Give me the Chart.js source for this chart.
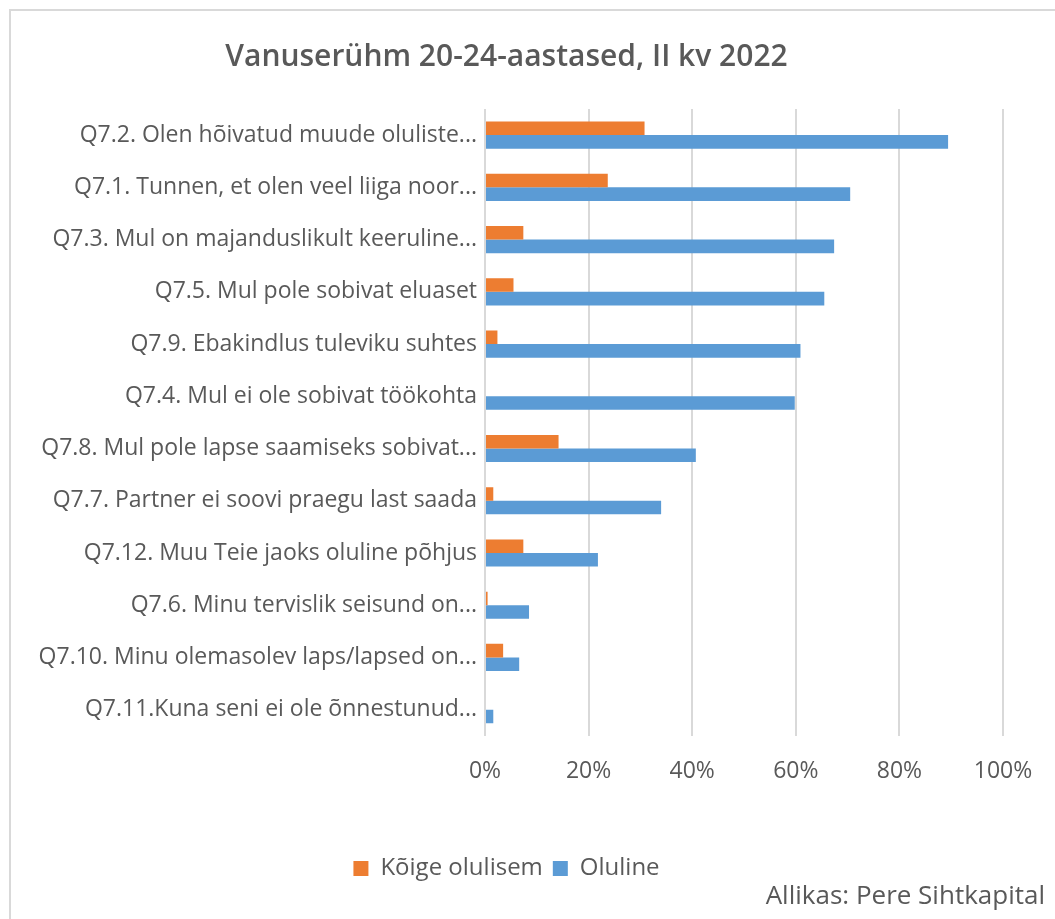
<!DOCTYPE html>
<html>
<head>
<meta charset="utf-8">
<script src="https://cdn.jsdelivr.net/npm/chart.js@4"></script>
<style>
  body { margin: 0; background: #fff; }
  #frame { position: absolute; left: 9px; top: 9px; width: 1100px; height: 1000px; border: 2px solid #d9d9d9; }
  #wrap { position: absolute; left: 0; top: 0; width: 1055px; height: 919px; }
</style>
</head>
<body>
<div id="frame"></div>
<div id="wrap"><canvas id="chart"></canvas></div>
<script>
const categories = [
    'Q7.2. Olen hõivatud muude oluliste...',
    'Q7.1. Tunnen, et olen veel liiga noor...',
    'Q7.3. Mul on majanduslikult keeruline...',
    'Q7.5. Mul pole sobivat eluaset',
    'Q7.9. Ebakindlus tuleviku suhtes',
    'Q7.4. Mul ei ole sobivat töökohta',
    'Q7.8. Mul pole lapse saamiseks sobivat...',
    'Q7.7. Partner ei soovi praegu last saada',
    'Q7.12. Muu Teie jaoks oluline põhjus',
    'Q7.6. Minu tervislik seisund on...',
    'Q7.10. Minu olemasolev laps/lapsed on...',
    'Q7.11.Kuna seni ei ole õnnestunud...'
];
const koigeOlulisem = [30.8, 23.7, 7.4, 5.5, 2.4, 0, 14.2, 1.6, 7.4, 0.5, 3.5, 0];
const oluline = [89.4, 70.5, 67.4, 65.5, 60.9, 59.8, 40.7, 34.0, 21.8, 8.5, 6.6, 1.6];
const xTicks = [0, 20, 40, 60, 80, 100];
const sourceText = 'Allikas: Pere Sihtkapital';

const textColor = '#595959';
const fontFamily = '"Open Sans", "Noto Sans", sans-serif';

// source note in the bottom right corner
const sourcePlugin = {
    id: 'source',
    afterDraw(chart) {
        const c = chart.ctx;
        c.save();
        c.font = '26px ' + fontFamily;
        c.fillStyle = textColor;
        c.textAlign = 'right';
        c.textBaseline = 'middle';
        c.fillText(sourceText, chart.width - 10, 897);
        c.restore();
    }
};

const ctx = document.getElementById('chart').getContext('2d');
const chart = new Chart(ctx, {
    type: 'bar',
    data: {
        labels: categories,
        datasets: [{
            label: 'Kõige olulisem',
            data: koigeOlulisem,
            backgroundColor: '#ed7d31'
        }, {
            label: 'Oluline',
            data: oluline,
            backgroundColor: '#5b9bd5'
        }]
    },
    plugins: [sourcePlugin],
    options: {
        indexAxis: 'y',
        responsive: true,
        maintainAspectRatio: false,
        animation: false,
        categoryPercentage: 0.52,
        barPercentage: 1.0,
        layout: { padding: { left: 10, right: 52, top: 10, bottom: 28.6 } },
        plugins: {
            title: {
                display: true,
                text: 'Vanuserühm 20-24-aastased, II kv 2022',
                color: textColor,
                font: { family: fontFamily, size: 30, weight: '600' },
                padding: { top: 29, bottom: 34 }
            },
            legend: {
                position: 'bottom',
                labels: {
                    color: textColor,
                    font: { family: fontFamily, size: 24 },
                    boxWidth: 15,
                    boxHeight: 15,
                    padding: 10
                }
            },
            tooltip: { enabled: false }
        },
        scales: {
            x: {
                min: 0,
                max: 100,
                afterBuildTicks(scale) {
                    scale.ticks = xTicks.map(v => ({ value: v }));
                },
                afterFit(scale) { scale.height = 110.6; },
                ticks: {
                    color: textColor,
                    font: { family: fontFamily, size: 23 },
                    padding: 22,
                    callback: v => v + '%'
                },
                grid: { color: '#d9d9d9', lineWidth: 2, drawTicks: false },
                border: { display: false }
            },
            y: {
                afterFit(scale) { scale.width = 475; },
                ticks: {
                    color: textColor,
                    font: { family: fontFamily, size: 23 },
                    padding: 8
                },
                grid: { display: false, drawTicks: false },
                border: { display: false }
            }
        }
    }
});
</script>
</body>
</html>
